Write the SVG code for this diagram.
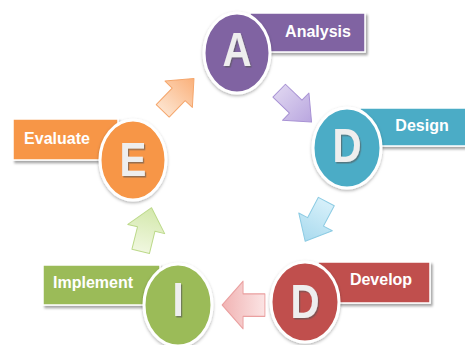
<svg xmlns="http://www.w3.org/2000/svg" width="465" height="345" viewBox="0 0 465 345">
  <style>
    .lbl { font-family: "Liberation Sans", Arial, sans-serif; font-weight: bold; font-size: 16px; fill: #ffffff; text-anchor: middle; }
    .big { font-family: "Liberation Sans", Arial, sans-serif; font-weight: bold; font-size: 48px; fill: #eeeeee; text-anchor: middle; }
    .ring { stroke: #ffffff; stroke-width: 3; filter: url(#soft); }
    .tab { stroke: #ffffff; stroke-width: 1.5; filter: url(#drop); }
    .arr { stroke-width: 1; stroke-linejoin: round; }
  </style>
  <defs>
    <filter id="soft" x="-20%" y="-20%" width="140%" height="140%">
      <feDropShadow dx="0" dy="1.5" stdDeviation="1.5" flood-color="#000" flood-opacity="0.3"/>
    </filter>
    <filter id="drop" x="-10%" y="-20%" width="120%" height="150%">
      <feDropShadow dx="2" dy="2.5" stdDeviation="1.2" flood-color="#000" flood-opacity="0.35"/>
    </filter>
    <filter id="emb" x="-20%" y="-20%" width="140%" height="140%">
      <feDropShadow dx="1.5" dy="1.5" stdDeviation="0.6" flood-color="#555" flood-opacity="0.6"/>
    </filter>
    <linearGradient id="gO" x1="0" y1="0" x2="1" y2="0"><stop offset="0" stop-color="#fde3cd"/><stop offset="1" stop-color="#fab07a"/></linearGradient>
    <linearGradient id="gP" x1="0" y1="0" x2="1" y2="0"><stop offset="0" stop-color="#dcd2ef"/><stop offset="1" stop-color="#b9a6df"/></linearGradient>
    <linearGradient id="gB" x1="0" y1="0" x2="1" y2="0"><stop offset="0" stop-color="#d6f0fa"/><stop offset="1" stop-color="#a9daee"/></linearGradient>
    <linearGradient id="gR" x1="0" y1="0" x2="1" y2="0"><stop offset="0" stop-color="#fbe4e4"/><stop offset="1" stop-color="#f1b3b3"/></linearGradient>
    <linearGradient id="gG" x1="0" y1="0" x2="1" y2="0"><stop offset="0" stop-color="#f0f7df"/><stop offset="1" stop-color="#d3e8ab"/></linearGradient>
    <!-- block arrow pointing along +x, centred on the origin -->
    <path id="blk" d="M -22,-9 L 1,-9 L 1,-19 L 23,0 L 1,19 L 1,9 L -22,9 Z"/>
  </defs>

  <g id="connectors">
    <use href="#blk" class="arr" fill="url(#gO)" stroke="#f5a66c" transform="translate(178,95) rotate(-46)"/>
    <use href="#blk" class="arr" fill="url(#gP)" stroke="#a892d4" transform="translate(295,106) rotate(44)"/>
    <use href="#blk" class="arr" fill="url(#gB)" stroke="#8ccbe3" transform="translate(316,221) rotate(118)"/>
    <use href="#blk" class="arr" fill="url(#gR)" stroke="#eaa0a0" transform="translate(244,305) rotate(180) scale(0.95,1.25)"/>
    <use href="#blk" class="arr" fill="url(#gG)" stroke="#bcd98a" transform="translate(146,230) rotate(-76)"/>
  </g>

  <g id="analysis">
    <rect class="tab" x="250" y="13" width="115" height="39" fill="#8064a2"/>
    <text class="lbl" x="318" y="37">Analysis</text>
    <ellipse class="ring" cx="237" cy="53" rx="33" ry="40" fill="#8064a2"/>
    <text class="big" transform="translate(237,66) scale(0.84,1)" filter="url(#emb)">A</text>
  </g>

  <g id="design">
    <rect class="tab" x="360" y="108" width="108" height="38" fill="#4bacc6"/>
    <text class="lbl" x="422" y="131">Design</text>
    <ellipse class="ring" cx="347" cy="148" rx="34" ry="40" fill="#4bacc6"/>
    <text class="big" transform="translate(347,162) scale(0.84,1)" filter="url(#emb)">D</text>
  </g>

  <g id="evaluate">
    <rect class="tab" x="13" y="119" width="105" height="41" fill="#f79646"/>
    <text class="lbl" x="57" y="144">Evaluate</text>
    <ellipse class="ring" cx="133" cy="160" rx="33" ry="40" fill="#f79646"/>
    <text class="big" transform="translate(133,176) scale(0.84,1)" filter="url(#emb)">E</text>
  </g>

  <g id="develop">
    <rect class="tab" x="318" y="262" width="112" height="41" fill="#c0504d"/>
    <text class="lbl" x="381" y="285">Develop</text>
    <ellipse class="ring" cx="305" cy="302" rx="34" ry="40" fill="#c0504d"/>
    <text class="big" transform="translate(305,318) scale(0.84,1)" filter="url(#emb)">D</text>
  </g>

  <g id="implement">
    <rect class="tab" x="43" y="265" width="117" height="40" fill="#9bbb59"/>
    <text class="lbl" x="93" y="288">Implement</text>
    <ellipse class="ring" cx="178" cy="305" rx="34" ry="41" fill="#9bbb59"/>
    <text class="big" transform="translate(178,316) scale(0.84,1)" filter="url(#emb)">I</text>
  </g>
</svg>
